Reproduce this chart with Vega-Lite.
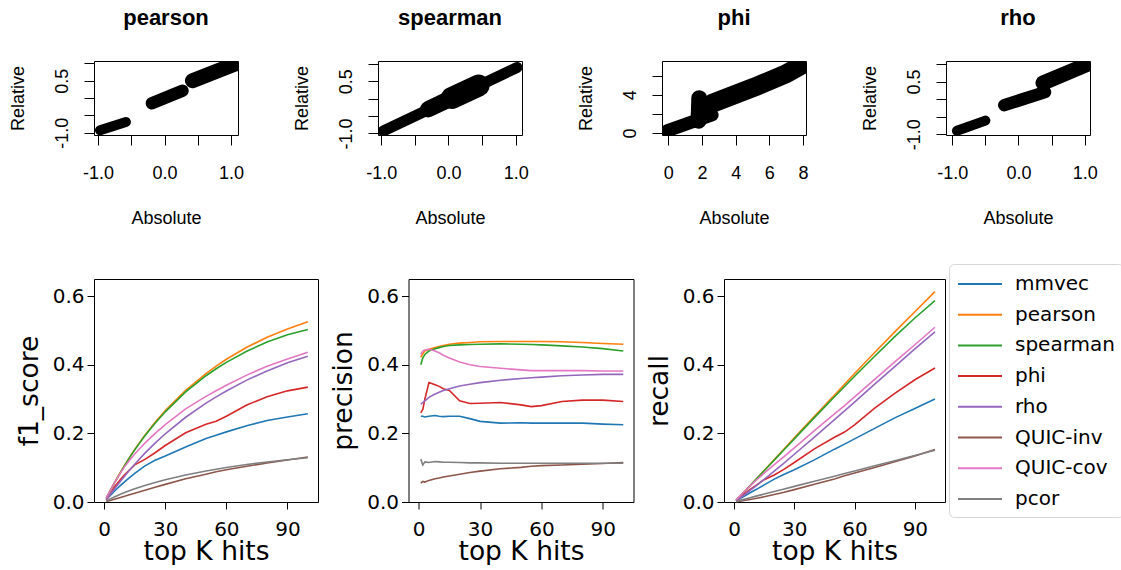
{
  "$schema": "https://vega.github.io/schema/vega-lite/v6.json",
  "padding": {"left": 8, "top": 6, "right": 0, "bottom": 0},
  "background": "white",
  "spacing": 35,
  "config": {
    "view": {"stroke": "black", "strokeWidth": 1},
    "axis": {"grid": false, "domain": false, "tickColor": "black", "labelColor": "black", "titleColor": "black", "titleFontWeight": "normal", "labelFlush": false, "labelOverlap": false},
    "title": {"font": "Liberation Sans", "fontSize": 22, "fontWeight": "bold", "color": "black", "frame": "group", "anchor": "middle", "offset": 31, "baseline": "alphabetic"}
  },
  "datasets": {
    "scatter": [
      {"panel": "pearson", "seg": "A", "x": -0.97, "y": -0.93},
      {"panel": "pearson", "seg": "A", "x": -0.58, "y": -0.69},
      {"panel": "pearson", "seg": "B", "x": -0.19, "y": -0.15},
      {"panel": "pearson", "seg": "B", "x": 0.27, "y": 0.21},
      {"panel": "pearson", "seg": "C", "x": 0.42, "y": 0.5},
      {"panel": "pearson", "seg": "C", "x": 1.05, "y": 0.97},
      {"panel": "spearman", "seg": "A", "x": -0.97, "y": -0.93},
      {"panel": "spearman", "seg": "A", "x": 1.02, "y": 0.9},
      {"panel": "spearman", "seg": "B", "x": -0.3, "y": -0.3},
      {"panel": "spearman", "seg": "B", "x": 0.22, "y": 0.18},
      {"panel": "spearman", "seg": "C", "x": 0.05, "y": 0.02},
      {"panel": "spearman", "seg": "C", "x": 0.45, "y": 0.38},
      {"panel": "phi", "seg": "A", "x": -0.05, "y": 0.25},
      {"panel": "phi", "seg": "A", "x": 2.6, "y": 1.9},
      {"panel": "phi", "seg": "B", "x": 1.8, "y": 1.3},
      {"panel": "phi", "seg": "B", "x": 1.84, "y": 3.65},
      {"panel": "phi", "seg": "C", "x": 2.6, "y": 3.1},
      {"panel": "phi", "seg": "C", "x": 5.1, "y": 4.8},
      {"panel": "phi", "seg": "C", "x": 7.0, "y": 6.2},
      {"panel": "phi", "seg": "C", "x": 8.0, "y": 7.2},
      {"panel": "rho", "seg": "A", "x": -0.93, "y": -0.9},
      {"panel": "rho", "seg": "A", "x": -0.5, "y": -0.61},
      {"panel": "rho", "seg": "B", "x": -0.215, "y": -0.17},
      {"panel": "rho", "seg": "B", "x": 0.4, "y": 0.2},
      {"panel": "rho", "seg": "C", "x": 0.37, "y": 0.46},
      {"panel": "rho", "seg": "C", "x": 1.03, "y": 0.98}
    ],
    "perf": [
      {"m":"mmvec","k":1,"p":0.25,"r":0.0033,"f":0.0066},
      {"m":"mmvec","k":2,"p":0.25,"r":0.0067,"f":0.013},
      {"m":"mmvec","k":3,"p":0.248,"r":0.0099,"f":0.0191},
      {"m":"mmvec","k":5,"p":0.25,"r":0.0167,"f":0.0313},
      {"m":"mmvec","k":8,"p":0.252,"r":0.0269,"f":0.0486},
      {"m":"mmvec","k":10,"p":0.25,"r":0.0333,"f":0.0588},
      {"m":"mmvec","k":12,"p":0.249,"r":0.0398,"f":0.0687},
      {"m":"mmvec","k":15,"p":0.25,"r":0.05,"f":0.0833},
      {"m":"mmvec","k":20,"p":0.25,"r":0.0667,"f":0.1053},
      {"m":"mmvec","k":25,"p":0.243,"r":0.081,"f":0.1215},
      {"m":"mmvec","k":30,"p":0.235,"r":0.094,"f":0.1343},
      {"m":"mmvec","k":40,"p":0.23,"r":0.1227,"f":0.16},
      {"m":"mmvec","k":50,"p":0.231,"r":0.154,"f":0.1848},
      {"m":"mmvec","k":55,"p":0.23,"r":0.1687,"f":0.1946},
      {"m":"mmvec","k":60,"p":0.23,"r":0.184,"f":0.2044},
      {"m":"mmvec","k":70,"p":0.23,"r":0.2147,"f":0.2221},
      {"m":"mmvec","k":80,"p":0.23,"r":0.2453,"f":0.2374},
      {"m":"mmvec","k":90,"p":0.227,"r":0.2724,"f":0.2476},
      {"m":"mmvec","k":100,"p":0.225,"r":0.3,"f":0.2571},
      {"m":"pearson","k":1,"p":0.422,"r":0.0056,"f":0.0111},
      {"m":"pearson","k":2,"p":0.432,"r":0.0115,"f":0.0224},
      {"m":"pearson","k":3,"p":0.44,"r":0.0176,"f":0.0338},
      {"m":"pearson","k":5,"p":0.445,"r":0.0297,"f":0.0556},
      {"m":"pearson","k":8,"p":0.45,"r":0.048,"f":0.0867},
      {"m":"pearson","k":10,"p":0.453,"r":0.0604,"f":0.1066},
      {"m":"pearson","k":12,"p":0.456,"r":0.073,"f":0.1258},
      {"m":"pearson","k":15,"p":0.46,"r":0.092,"f":0.1533},
      {"m":"pearson","k":20,"p":0.463,"r":0.1235,"f":0.1949},
      {"m":"pearson","k":25,"p":0.465,"r":0.155,"f":0.2325},
      {"m":"pearson","k":30,"p":0.467,"r":0.1868,"f":0.2669},
      {"m":"pearson","k":40,"p":0.468,"r":0.2496,"f":0.3256},
      {"m":"pearson","k":50,"p":0.468,"r":0.312,"f":0.3744},
      {"m":"pearson","k":55,"p":0.468,"r":0.3432,"f":0.396},
      {"m":"pearson","k":60,"p":0.468,"r":0.3744,"f":0.416},
      {"m":"pearson","k":70,"p":0.467,"r":0.4359,"f":0.4509},
      {"m":"pearson","k":80,"p":0.465,"r":0.496,"f":0.48},
      {"m":"pearson","k":90,"p":0.462,"r":0.5544,"f":0.504},
      {"m":"pearson","k":100,"p":0.46,"r":0.6133,"f":0.5257},
      {"m":"spearman","k":1,"p":0.4,"r":0.0053,"f":0.0105},
      {"m":"spearman","k":2,"p":0.42,"r":0.0112,"f":0.0218},
      {"m":"spearman","k":3,"p":0.43,"r":0.0172,"f":0.0331},
      {"m":"spearman","k":5,"p":0.44,"r":0.0293,"f":0.055},
      {"m":"spearman","k":8,"p":0.447,"r":0.0477,"f":0.0862},
      {"m":"spearman","k":10,"p":0.45,"r":0.06,"f":0.1059},
      {"m":"spearman","k":12,"p":0.453,"r":0.0725,"f":0.125},
      {"m":"spearman","k":15,"p":0.456,"r":0.0912,"f":0.152},
      {"m":"spearman","k":20,"p":0.458,"r":0.1221,"f":0.1928},
      {"m":"spearman","k":25,"p":0.459,"r":0.153,"f":0.2295},
      {"m":"spearman","k":30,"p":0.46,"r":0.184,"f":0.2629},
      {"m":"spearman","k":40,"p":0.461,"r":0.2459,"f":0.3207},
      {"m":"spearman","k":50,"p":0.46,"r":0.3067,"f":0.368},
      {"m":"spearman","k":55,"p":0.459,"r":0.3366,"f":0.3884},
      {"m":"spearman","k":60,"p":0.458,"r":0.3664,"f":0.4071},
      {"m":"spearman","k":70,"p":0.455,"r":0.4247,"f":0.4393},
      {"m":"spearman","k":80,"p":0.452,"r":0.4821,"f":0.4666},
      {"m":"spearman","k":90,"p":0.447,"r":0.5364,"f":0.4876},
      {"m":"spearman","k":100,"p":0.44,"r":0.5867,"f":0.5029},
      {"m":"phi","k":1,"p":0.26,"r":0.0035,"f":0.0068},
      {"m":"phi","k":2,"p":0.27,"r":0.0072,"f":0.014},
      {"m":"phi","k":3,"p":0.3,"r":0.012,"f":0.0231},
      {"m":"phi","k":5,"p":0.348,"r":0.0232,"f":0.0435},
      {"m":"phi","k":8,"p":0.342,"r":0.0365,"f":0.0659},
      {"m":"phi","k":10,"p":0.337,"r":0.0449,"f":0.0793},
      {"m":"phi","k":12,"p":0.33,"r":0.0528,"f":0.091},
      {"m":"phi","k":15,"p":0.325,"r":0.065,"f":0.1083},
      {"m":"phi","k":20,"p":0.295,"r":0.0787,"f":0.1242},
      {"m":"phi","k":25,"p":0.287,"r":0.0957,"f":0.1435},
      {"m":"phi","k":30,"p":0.288,"r":0.1152,"f":0.1646},
      {"m":"phi","k":40,"p":0.29,"r":0.1547,"f":0.2017},
      {"m":"phi","k":50,"p":0.283,"r":0.1887,"f":0.2264},
      {"m":"phi","k":55,"p":0.278,"r":0.2039,"f":0.2352},
      {"m":"phi","k":60,"p":0.281,"r":0.2248,"f":0.2498},
      {"m":"phi","k":70,"p":0.293,"r":0.2735,"f":0.2829},
      {"m":"phi","k":80,"p":0.297,"r":0.3168,"f":0.3066},
      {"m":"phi","k":90,"p":0.297,"r":0.3564,"f":0.324},
      {"m":"phi","k":100,"p":0.293,"r":0.3907,"f":0.3349},
      {"m":"rho","k":1,"p":0.285,"r":0.0038,"f":0.0075},
      {"m":"rho","k":2,"p":0.29,"r":0.0077,"f":0.0151},
      {"m":"rho","k":3,"p":0.295,"r":0.0118,"f":0.0227},
      {"m":"rho","k":5,"p":0.305,"r":0.0203,"f":0.0381},
      {"m":"rho","k":8,"p":0.315,"r":0.0336,"f":0.0607},
      {"m":"rho","k":10,"p":0.32,"r":0.0427,"f":0.0753},
      {"m":"rho","k":12,"p":0.325,"r":0.052,"f":0.0897},
      {"m":"rho","k":15,"p":0.33,"r":0.066,"f":0.11},
      {"m":"rho","k":20,"p":0.338,"r":0.0901,"f":0.1423},
      {"m":"rho","k":25,"p":0.343,"r":0.1143,"f":0.1715},
      {"m":"rho","k":30,"p":0.348,"r":0.1392,"f":0.1989},
      {"m":"rho","k":40,"p":0.355,"r":0.1893,"f":0.247},
      {"m":"rho","k":50,"p":0.36,"r":0.24,"f":0.288},
      {"m":"rho","k":55,"p":0.362,"r":0.2655,"f":0.3063},
      {"m":"rho","k":60,"p":0.364,"r":0.2912,"f":0.3236},
      {"m":"rho","k":70,"p":0.368,"r":0.3435,"f":0.3553},
      {"m":"rho","k":80,"p":0.37,"r":0.3947,"f":0.3819},
      {"m":"rho","k":90,"p":0.372,"r":0.4464,"f":0.4058},
      {"m":"rho","k":100,"p":0.372,"r":0.496,"f":0.4251},
      {"m":"QUIC-inv","k":1,"p":0.055,"r":0.0007,"f":0.0014},
      {"m":"QUIC-inv","k":2,"p":0.06,"r":0.0016,"f":0.0031},
      {"m":"QUIC-inv","k":3,"p":0.058,"r":0.0023,"f":0.0045},
      {"m":"QUIC-inv","k":5,"p":0.063,"r":0.0042,"f":0.0079},
      {"m":"QUIC-inv","k":8,"p":0.068,"r":0.0073,"f":0.0131},
      {"m":"QUIC-inv","k":10,"p":0.07,"r":0.0093,"f":0.0165},
      {"m":"QUIC-inv","k":12,"p":0.073,"r":0.0117,"f":0.0201},
      {"m":"QUIC-inv","k":15,"p":0.076,"r":0.0152,"f":0.0253},
      {"m":"QUIC-inv","k":20,"p":0.081,"r":0.0216,"f":0.0341},
      {"m":"QUIC-inv","k":25,"p":0.086,"r":0.0287,"f":0.043},
      {"m":"QUIC-inv","k":30,"p":0.09,"r":0.036,"f":0.0514},
      {"m":"QUIC-inv","k":40,"p":0.097,"r":0.0517,"f":0.0675},
      {"m":"QUIC-inv","k":50,"p":0.101,"r":0.0673,"f":0.0808},
      {"m":"QUIC-inv","k":55,"p":0.104,"r":0.0763,"f":0.088},
      {"m":"QUIC-inv","k":60,"p":0.106,"r":0.0848,"f":0.0942},
      {"m":"QUIC-inv","k":70,"p":0.108,"r":0.1008,"f":0.1043},
      {"m":"QUIC-inv","k":80,"p":0.11,"r":0.1173,"f":0.1135},
      {"m":"QUIC-inv","k":90,"p":0.112,"r":0.1344,"f":0.1222},
      {"m":"QUIC-inv","k":100,"p":0.115,"r":0.1533,"f":0.1314},
      {"m":"QUIC-cov","k":1,"p":0.43,"r":0.0057,"f":0.0113},
      {"m":"QUIC-cov","k":2,"p":0.44,"r":0.0117,"f":0.0229},
      {"m":"QUIC-cov","k":3,"p":0.443,"r":0.0177,"f":0.0341},
      {"m":"QUIC-cov","k":5,"p":0.445,"r":0.0297,"f":0.0556},
      {"m":"QUIC-cov","k":8,"p":0.44,"r":0.0469,"f":0.0848},
      {"m":"QUIC-cov","k":10,"p":0.435,"r":0.058,"f":0.1024},
      {"m":"QUIC-cov","k":12,"p":0.428,"r":0.0685,"f":0.1181},
      {"m":"QUIC-cov","k":15,"p":0.42,"r":0.084,"f":0.14},
      {"m":"QUIC-cov","k":20,"p":0.408,"r":0.1088,"f":0.1718},
      {"m":"QUIC-cov","k":25,"p":0.4,"r":0.1333,"f":0.2},
      {"m":"QUIC-cov","k":30,"p":0.395,"r":0.158,"f":0.2257},
      {"m":"QUIC-cov","k":40,"p":0.39,"r":0.208,"f":0.2713},
      {"m":"QUIC-cov","k":50,"p":0.385,"r":0.2567,"f":0.308},
      {"m":"QUIC-cov","k":55,"p":0.383,"r":0.2809,"f":0.3241},
      {"m":"QUIC-cov","k":60,"p":0.383,"r":0.3064,"f":0.3404},
      {"m":"QUIC-cov","k":70,"p":0.383,"r":0.3575,"f":0.3698},
      {"m":"QUIC-cov","k":80,"p":0.383,"r":0.4085,"f":0.3954},
      {"m":"QUIC-cov","k":90,"p":0.382,"r":0.4584,"f":0.4167},
      {"m":"QUIC-cov","k":100,"p":0.382,"r":0.5093,"f":0.4366},
      {"m":"pcor","k":1,"p":0.125,"r":0.0017,"f":0.0033},
      {"m":"pcor","k":2,"p":0.108,"r":0.0029,"f":0.0056},
      {"m":"pcor","k":3,"p":0.117,"r":0.0047,"f":0.009},
      {"m":"pcor","k":5,"p":0.115,"r":0.0077,"f":0.0144},
      {"m":"pcor","k":8,"p":0.118,"r":0.0126,"f":0.0227},
      {"m":"pcor","k":10,"p":0.117,"r":0.0156,"f":0.0275},
      {"m":"pcor","k":12,"p":0.116,"r":0.0186,"f":0.032},
      {"m":"pcor","k":15,"p":0.116,"r":0.0232,"f":0.0387},
      {"m":"pcor","k":20,"p":0.115,"r":0.0307,"f":0.0484},
      {"m":"pcor","k":25,"p":0.114,"r":0.038,"f":0.057},
      {"m":"pcor","k":30,"p":0.114,"r":0.0456,"f":0.0651},
      {"m":"pcor","k":40,"p":0.113,"r":0.0603,"f":0.0786},
      {"m":"pcor","k":50,"p":0.113,"r":0.0753,"f":0.0904},
      {"m":"pcor","k":55,"p":0.113,"r":0.0829,"f":0.0956},
      {"m":"pcor","k":60,"p":0.113,"r":0.0904,"f":0.1004},
      {"m":"pcor","k":70,"p":0.113,"r":0.1055,"f":0.1091},
      {"m":"pcor","k":80,"p":0.113,"r":0.1205,"f":0.1166},
      {"m":"pcor","k":90,"p":0.113,"r":0.1356,"f":0.1233},
      {"m":"pcor","k":100,"p":0.113,"r":0.1507,"f":0.1291}
    ]
  },
  "vconcat": [
    {
      "hconcat": [
        {
          "width": 144, "height": 74,
          "title": {"text": "pearson"},
          "data": {"name": "scatter"},
          "transform": [{"filter": "datum.panel === 'pearson'"}],
          "mark": {"type": "line", "color": "black", "strokeCap": "round", "clip": true},
          "encoding": {
            "x": {"field": "x", "type": "quantitative", "scale": {"domain": [-1.06, 1.105], "nice": false, "zero": false},
                  "axis": {"values": [-1, -0.5, 0, 0.5, 1], "labelExpr": "datum.value == -1 ? '-1.0' : datum.value == 0 ? '0.0' : datum.value == 1 ? '1.0' : ''", "title": "Absolute", "tickSize": 10, "labelPadding": 19, "titlePadding": 27, "labelFont": "Liberation Sans", "labelFontSize": 18, "titleFont": "Liberation Sans", "titleFontSize": 18}},
            "y": {"field": "y", "type": "quantitative", "scale": {"domain": [-1.066, 1.066], "nice": false, "zero": false},
                  "axis": {"values": [-1, -0.5, 0, 0.5, 1], "labelExpr": "datum.value == -1 ? '-1.0' : datum.value == 0.5 ? '0.5' : ''", "title": "Relative", "tickSize": 10, "labelAngle": 270, "labelAlign": "center", "labelBaseline": "alphabetic", "labelPadding": 17, "titlePadding": 30, "titleBaseline": "alphabetic", "labelFont": "Liberation Sans", "labelFontSize": 18, "titleFont": "Liberation Sans", "titleFontSize": 18}},
            "detail": {"field": "seg"},
            "strokeWidth": {"field": "seg", "type": "nominal", "scale": {"domain": ["A", "B", "C"], "range": [10, 15, 10]}, "legend": null}
          }
        },
        {
          "width": 144, "height": 74,
          "title": {"text": "spearman"},
          "data": {"name": "scatter"},
          "transform": [{"filter": "datum.panel === 'spearman'"}],
          "mark": {"type": "line", "color": "black", "strokeCap": "round", "clip": true},
          "encoding": {
            "x": {"field": "x", "type": "quantitative", "scale": {"domain": [-1.049, 1.094], "nice": false, "zero": false},
                  "axis": {"values": [-1, -0.5, 0, 0.5, 1], "labelExpr": "datum.value == -1 ? '-1.0' : datum.value == 0 ? '0.0' : datum.value == 1 ? '1.0' : ''", "title": "Absolute", "tickSize": 10, "labelPadding": 19, "titlePadding": 27, "labelFont": "Liberation Sans", "labelFontSize": 18, "titleFont": "Liberation Sans", "titleFontSize": 18}},
            "y": {"field": "y", "type": "quantitative", "scale": {"domain": [-1.046, 1.086], "nice": false, "zero": false},
                  "axis": {"values": [-1, -0.5, 0, 0.5, 1], "labelExpr": "datum.value == -1 ? '-1.0' : datum.value == 0.5 ? '0.5' : ''", "title": "Relative", "tickSize": 10, "labelAngle": 270, "labelAlign": "center", "labelBaseline": "alphabetic", "labelPadding": 17, "titlePadding": 30, "titleBaseline": "alphabetic", "labelFont": "Liberation Sans", "labelFontSize": 18, "titleFont": "Liberation Sans", "titleFontSize": 18}},
            "detail": {"field": "seg"},
            "strokeWidth": {"field": "seg", "type": "nominal", "scale": {"domain": ["A", "B", "C"], "range": [11, 22, 16]}, "legend": null}
          }
        },
        {
          "width": 144, "height": 74,
          "title": {"text": "phi"},
          "data": {"name": "scatter"},
          "transform": [{"filter": "datum.panel === 'phi'"}],
          "mark": {"type": "line", "color": "black", "strokeCap": "round", "clip": true},
          "encoding": {
            "x": {"field": "x", "type": "quantitative", "scale": {"domain": [-0.374, 8.177], "nice": false, "zero": false},
                  "axis": {"values": [0, 2, 4, 6, 8], "format": "d", "title": "Absolute", "tickSize": 10, "labelPadding": 19, "titlePadding": 27, "labelFont": "Liberation Sans", "labelFontSize": 18, "titleFont": "Liberation Sans", "titleFontSize": 18}},
            "y": {"field": "y", "type": "quantitative", "scale": {"domain": [-0.2, 7.54], "nice": false, "zero": false},
                  "axis": {"values": [0, 2, 4, 6], "labelExpr": "datum.value == 0 ? '0' : datum.value == 4 ? '4' : ''", "title": "Relative", "tickSize": 10, "labelAngle": 270, "labelAlign": "center", "labelBaseline": "alphabetic", "labelPadding": 17, "titlePadding": 30, "titleBaseline": "alphabetic", "labelFont": "Liberation Sans", "labelFontSize": 18, "titleFont": "Liberation Sans", "titleFontSize": 18}},
            "detail": {"field": "seg"},
            "strokeWidth": {"field": "seg", "type": "nominal", "scale": {"domain": ["A", "B", "C"], "range": [13, 19, 15]}, "legend": null}
          }
        },
        {
          "width": 144, "height": 74,
          "title": {"text": "rho"},
          "data": {"name": "scatter"},
          "transform": [{"filter": "datum.panel === 'rho'"}],
          "mark": {"type": "line", "color": "black", "strokeCap": "round", "clip": true},
          "encoding": {
            "x": {"field": "x", "type": "quantitative", "scale": {"domain": [-1.095, 1.08], "nice": false, "zero": false},
                  "axis": {"values": [-1, -0.5, 0, 0.5, 1], "labelExpr": "datum.value == -1 ? '-1.0' : datum.value == 0 ? '0.0' : datum.value == 1 ? '1.0' : ''", "title": "Absolute", "tickSize": 10, "labelPadding": 19, "titlePadding": 27, "labelFont": "Liberation Sans", "labelFontSize": 18, "titleFont": "Liberation Sans", "titleFontSize": 18}},
            "y": {"field": "y", "type": "quantitative", "scale": {"domain": [-1.02, 1.085], "nice": false, "zero": false},
                  "axis": {"values": [-1, -0.5, 0, 0.5, 1], "labelExpr": "datum.value == -1 ? '-1.0' : datum.value == 0.5 ? '0.5' : ''", "title": "Relative", "tickSize": 10, "labelAngle": 270, "labelAlign": "center", "labelBaseline": "alphabetic", "labelPadding": 17, "titlePadding": 30, "titleBaseline": "alphabetic", "labelFont": "Liberation Sans", "labelFontSize": 18, "titleFont": "Liberation Sans", "titleFontSize": 18}},
            "detail": {"field": "seg"},
            "strokeWidth": {"field": "seg", "type": "nominal", "scale": {"domain": ["A", "B", "C"], "range": [10, 15, 11]}, "legend": null}
          }
        }
      ],
      "spacing": 140,
      "bounds": "flush",
      "resolve": {"scale": {"strokeWidth": "independent"}}
    },
    {
      "hconcat": [
        {
          "width": 224, "height": 223,
          "data": {"name": "perf"},
          "mark": {"type": "line", "strokeWidth": 1.6},
          "encoding": {
            "x": {"field": "k", "type": "quantitative", "scale": {"domain": [-5, 105], "nice": false, "zero": false},
                  "axis": {"values": [0, 30, 60, 90], "title": "top K hits", "tickSize": 7, "labelPadding": 10, "titlePadding": -1, "labelFont": "DejaVu Sans", "labelFontSize": 20, "titleFont": "DejaVu Sans", "titleFontSize": 26.5}},
            "y": {"field": "f", "type": "quantitative", "scale": {"domain": [0, 0.65], "nice": false},
                  "axis": {"values": [0, 0.2, 0.4, 0.6], "format": ".1f", "title": "f1_score", "tickSize": 7, "labelPadding": 3, "titlePadding": 15, "titleBaseline": "alphabetic", "labelFont": "DejaVu Sans", "labelFontSize": 20, "titleFont": "DejaVu Sans", "titleFontSize": 26.5}},
            "color": {"field": "m", "type": "nominal", "scale": {"domain": ["mmvec", "pearson", "spearman", "phi", "rho", "QUIC-inv", "QUIC-cov", "pcor"], "range": ["#1f77b4", "#ff7f0e", "#2ca02c", "#d62728", "#9467bd", "#8c564b", "#e377c2", "#7f7f7f"]}, "legend": null}
          }
        },
        {
          "width": 225, "height": 223,
          "data": {"name": "perf"},
          "mark": {"type": "line", "strokeWidth": 1.6},
          "encoding": {
            "x": {"field": "k", "type": "quantitative", "scale": {"domain": [-5, 105], "nice": false, "zero": false},
                  "axis": {"values": [0, 30, 60, 90], "title": "top K hits", "tickSize": 7, "labelPadding": 10, "titlePadding": -1, "labelFont": "DejaVu Sans", "labelFontSize": 20, "titleFont": "DejaVu Sans", "titleFontSize": 26.5}},
            "y": {"field": "p", "type": "quantitative", "scale": {"domain": [0, 0.65], "nice": false},
                  "axis": {"values": [0, 0.2, 0.4, 0.6], "format": ".1f", "title": "precision", "tickSize": 7, "labelPadding": 3, "titlePadding": 15, "titleBaseline": "alphabetic", "labelFont": "DejaVu Sans", "labelFontSize": 20, "titleFont": "DejaVu Sans", "titleFontSize": 26.5}},
            "color": {"field": "m", "type": "nominal", "scale": {"domain": ["mmvec", "pearson", "spearman", "phi", "rho", "QUIC-inv", "QUIC-cov", "pcor"], "range": ["#1f77b4", "#ff7f0e", "#2ca02c", "#d62728", "#9467bd", "#8c564b", "#e377c2", "#7f7f7f"]}, "legend": null}
          }
        },
        {
          "width": 221, "height": 223,
          "data": {"name": "perf"},
          "mark": {"type": "line", "strokeWidth": 1.6},
          "encoding": {
            "x": {"field": "k", "type": "quantitative", "scale": {"domain": [-5, 105], "nice": false, "zero": false},
                  "axis": {"values": [0, 30, 60, 90], "title": "top K hits", "tickSize": 7, "labelPadding": 10, "titlePadding": -1, "labelFont": "DejaVu Sans", "labelFontSize": 20, "titleFont": "DejaVu Sans", "titleFontSize": 26.5}},
            "y": {"field": "r", "type": "quantitative", "scale": {"domain": [0, 0.65], "nice": false},
                  "axis": {"values": [0, 0.2, 0.4, 0.6], "format": ".1f", "title": "recall", "tickSize": 7, "labelPadding": 3, "titlePadding": 15, "titleBaseline": "alphabetic", "labelFont": "DejaVu Sans", "labelFontSize": 20, "titleFont": "DejaVu Sans", "titleFontSize": 26.5}},
            "color": {"field": "m", "type": "nominal", "scale": {"domain": ["mmvec", "pearson", "spearman", "phi", "rho", "QUIC-inv", "QUIC-cov", "pcor"], "range": ["#1f77b4", "#ff7f0e", "#2ca02c", "#d62728", "#9467bd", "#8c564b", "#e377c2", "#7f7f7f"]},
                      "legend": {"orient": "none", "legendX": 225, "legendY": -15, "title": null, "symbolType": "M-1,0H3", "symbolSize": 484, "symbolStrokeWidth": 2, "labelFont": "DejaVu Sans", "labelFontSize": 20, "labelColor": "black", "labelOffset": 34, "rowPadding": 8.7, "padding": 8, "strokeColor": "#d6d6d6", "cornerRadius": 5, "fillColor": "white"}}
          }
        }
      ],
      "spacing": 90.5,
      "bounds": "flush",
      "resolve": {"scale": {"color": "independent"}, "legend": {"color": "independent"}}
    }
  ]
}
